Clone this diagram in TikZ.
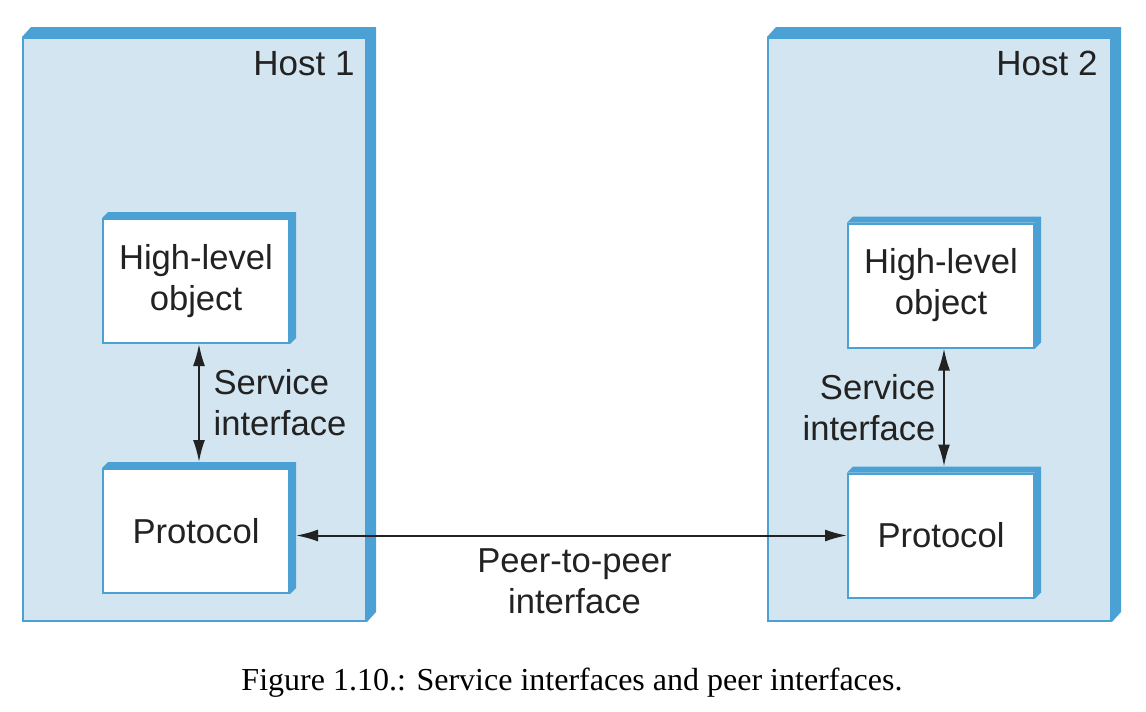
\documentclass[tikz,border=0pt]{standalone}
\usepackage{fontspec}
\setmainfont{Liberation Sans}
\newfontfamily\capfont{Liberation Serif}
\usepackage{xcolor}
\usepackage{tikz}
\usetikzlibrary{arrows.meta}
\definecolor{hostface}{HTML}{D3E5F0}
\definecolor{hostedge}{HTML}{4BA1D4}
\definecolor{inkline}{HTML}{222222}

\begin{document}
\begin{tikzpicture}[x=0.5pt,y=-0.5pt]
				\useasboundingbox (0,0) rectangle (1146,712);
				\begin{scope}[every node/.style={rectangle,draw=hostedge,line width=1pt,inner sep=0pt}]
					\node[fill=hostface,minimum width=171.5pt,minimum height=291.5pt] (H1) at (194.5,329.5) {};
					\node[fill=hostface,minimum width=171.5pt,minimum height=291.5pt] (H2) at (939.5,329.5) {};
				\end{scope}
				
				% the thick blue band along the top and right of each host
				\foreach \n in {H1,H2}
					\fill[hostedge] (\n.north west) -- ++(4.5pt,5pt) -- ([shift={(4.5pt,5pt)}]\n.north east)
						-- ([shift={(4.5pt,5pt)}]\n.south east) -- (\n.south east) -- (\n.north east) -- cycle;
				
				\begin{scope}[every node/.style={rectangle,draw=hostedge,line width=1pt,fill=white,
						minimum width=93pt,minimum height=62pt,align=center,text=inkline,
						font=\fontsize{17.3}{20.5}\selectfont}]
					\node (A1) at (196,281) {High-level\\object};
					\node (B1) at (196,531) {Protocol};
					\node (A2) at (941,285.5) {High-level\\object};
					\node (B2) at (941,535.5) {Protocol};
				\end{scope}
				
				\foreach \n in {A1,B1,A2,B2}
					\fill[hostedge] (\n.north west) -- ++(3pt,3pt) -- ([shift={(3pt,3pt)}]\n.north east)
						-- ([shift={(3pt,3pt)}]\n.south east) -- (\n.south east) -- (\n.north east) -- cycle;
				
				\begin{scope}[every node/.style={text=inkline,inner sep=0pt,font=\fontsize{17.5}{20.5}\selectfont}]
					\node[anchor=base east] (L1) at (355,75) {Host 1};
					\node[anchor=base east] (L2) at (1098,75) {Host 2};
				\end{scope}
				
				\begin{scope}[>={Latex[length=11pt,width=6pt]},
					every node/.style={text=inkline,font=\fontsize{17.3}{20.5}\selectfont},
					every edge/.style={draw=inkline,line width=1pt}]
					\path [<->] ([xshift=1.5pt]A1.south) edge node[right,align=left,xshift=3.5pt] {Service\\interface} ([xshift=1.5pt,yshift=3pt]B1.north);
					\path [<->] ([xshift=1.5pt]A2.south) edge node[left,align=right,xshift=-0.5pt] {Service\\interface} ([xshift=1.5pt,yshift=3pt]B2.north);
					\path [<->] ([xshift=3pt]B2.west -| B1.east) edge node[below,align=center,yshift=-3pt,xshift=1.5pt] {Peer-to-peer\\interface} (B2.west);
				\end{scope}
				
				\node[anchor=base,font=\capfont\fontsize{16}{19}\selectfont] (cap) at (572,690) {Figure 1.10.: Service interfaces and peer interfaces.};
			\end{tikzpicture}
\end{document}
